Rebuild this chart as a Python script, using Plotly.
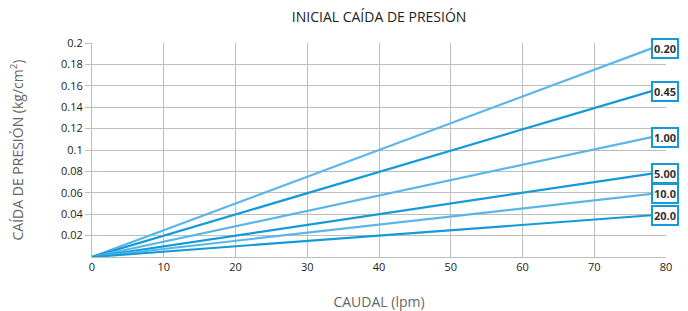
import plotly.graph_objects as go

# Data
flow_x = [0, 78]
series_labels = ["0.20", "0.45", "1.00", "5.00", "10.0", "20.0"]
series_end_values = [0.195, 0.155, 0.112, 0.078, 0.059, 0.039]
series_colors = ["#5ab6e8", "#149ad8", "#5ab6e8", "#149ad8", "#5ab6e8", "#149ad8"]
x_ticks = [0, 10, 20, 30, 40, 50, 60, 70, 80]
y_ticks = [0.02, 0.04, 0.06, 0.08, 0.1, 0.12, 0.14, 0.16, 0.18, 0.2]
y_ticktext = ["0.02", "0.04", "0.06", "0.08", "0.1", "0.12", "0.14", "0.16", "0.18", "0.2"]

FONT = "Open Sans"

fig = go.Figure()
for lab, v, c in zip(series_labels, series_end_values, series_colors):
    fig.add_trace(go.Scatter(x=flow_x, y=[0, v], mode="lines",
                             line=dict(color=c, width=2.2), name=lab,
                             showlegend=False, cliponaxis=False))
    fig.add_annotation(x=flow_x[-1], y=v, xref="x", yref="y", text="<b>%s</b>" % lab,
                       showarrow=False, xanchor="left", yanchor="middle",
                       font=dict(family=FONT, size=11, color="#333"),
                       bgcolor="white", bordercolor="#149ad8", borderwidth=2,
                       borderpad=1, xshift=-1)

fig.update_layout(
    width=688, height=311,
    margin=dict(l=92, r=22, t=43, b=54, autoexpand=False),
    paper_bgcolor="white", plot_bgcolor="white",
    title=dict(text="INICIAL CAÍDA DE PRESIÓN", x=0.551, xanchor="center",
               y=0.945, yanchor="middle",
               font=dict(family=FONT, size=14, color="#222")),
    font=dict(family=FONT, size=11, color="#222"),
)
fig.update_xaxes(range=[0, 80], tickvals=x_ticks, showgrid=True, gridcolor="#bdbdbd",
                 gridwidth=1, showline=True, linecolor="#bdbdbd", linewidth=1,
                 zeroline=False, ticks="", automargin=False,
                 tickfont=dict(size=11, color="#222"),
                 title=dict(text="CAUDAL (lpm)", standoff=28,
                            font=dict(size=14, color="#666")))
fig.update_yaxes(range=[0, 0.2], tickvals=y_ticks, ticktext=y_ticktext, showgrid=True,
                 gridcolor="#bdbdbd", gridwidth=1, showline=True, linecolor="#bdbdbd",
                 linewidth=1, zeroline=False, ticks="outside", ticklen=6, tickcolor="#bdbdbd",
                 automargin=False, tickfont=dict(size=11, color="#222"),
                 title=dict(text="CAÍDA DE PRESIÓN (kg/cm<sup>2</sup>)", standoff=34,
                            font=dict(size=14, color="#666")))

fig.write_html("out.html", config={"displayModeBar": False},
               post_script="document.body.style.margin='0';")
